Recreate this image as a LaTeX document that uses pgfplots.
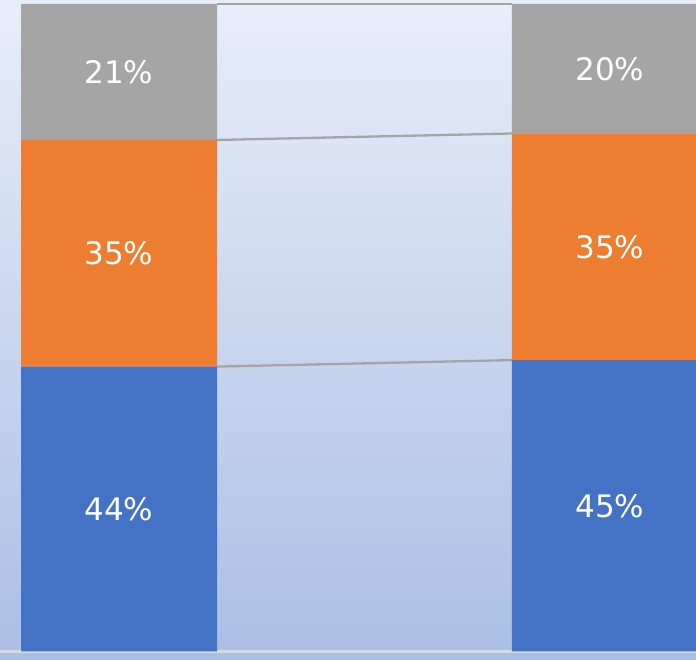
\documentclass[border=0pt]{standalone}
\usepackage{fontspec}
\setmainfont{DejaVu Sans}
\usepackage{pgfplots}
\pgfplotsset{compat=1.18}
\definecolor{cblue}{HTML}{4472C4}
\definecolor{corange}{HTML}{ED7D31}
\definecolor{cgray}{HTML}{A5A5A5}
\definecolor{sgray}{HTML}{A5A5A5}
\definecolor{axgray}{HTML}{D9D9D9}
\definecolor{bgtop}{HTML}{E8EEF9}
\definecolor{bgmid}{HTML}{C3D2EE}
\definecolor{bgbot}{HTML}{AABFE4}
\pgfplotsset{base/.style={
  scale only axis, width=696pt, height=647.5pt,
  at={(0pt,8.5pt)}, anchor=south west,
  xmin=-0.2424, xmax=1.1752, ymin=0, ymax=100,
  enlargelimits=false, xtick=\empty, ytick=\empty}}
\begin{document}
\begin{tikzpicture}
\clip (0,0) rectangle (696pt,660pt);
\shade[top color=bgtop, middle color=bgmid, bottom color=bgbot] (0,0) rectangle (696pt,660pt);
\begin{axis}[base, ybar stacked, bar width=196pt,
  axis x line*=bottom, axis y line=none,
  x axis line style={draw=axgray, line width=2.5pt, -}]
\addplot[fill=cblue, draw=none] coordinates {(0,44) (1,45)};
\addplot[fill=corange, draw=none] coordinates {(0,35) (1,35)};
\addplot[fill=cgray, draw=none] coordinates {(0,21) (1,20)};
\end{axis}
\begin{axis}[base, hide axis, clip=false]
\addplot[sgray, line width=2.3pt] coordinates {(0.1996,44) (0.8004,45)};
\addplot[sgray, line width=2.3pt] coordinates {(0.1996,79) (0.8004,80)};
\addplot[sgray, line width=2.3pt] coordinates {(0.1996,100) (0.8004,100)};
\addplot[draw=none, mark=none, nodes near coords, point meta=explicit symbolic,
  nodes near coords style={text=white, anchor=center, font=\fontsize{31}{37}\selectfont}]
  coordinates {(0,22) [44\%] (0,61.5) [35\%] (0,89.5) [21\%]
               (1,22.5) [45\%] (1,62.5) [35\%] (1,90) [20\%]};
\end{axis}
\end{tikzpicture}
\end{document}
